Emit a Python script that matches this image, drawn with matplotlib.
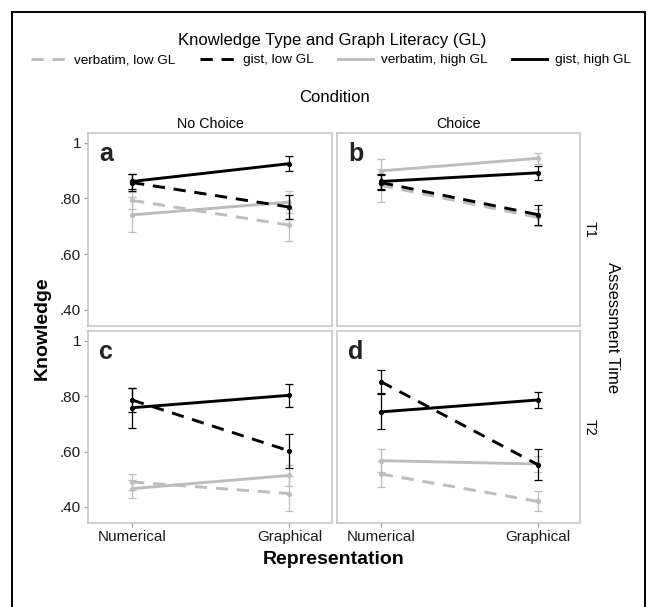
import matplotlib
matplotlib.use("Agg")
import matplotlib.pyplot as plt
from matplotlib.lines import Line2D
from matplotlib.patches import Rectangle

plt.rcParams["font.family"] = ["Liberation Sans", "DejaVu Sans"]

# --- data (Numerical, Graphical) ---
x_labels = ["Numerical", "Graphical"]
col_labels = ["No Choice", "Choice"]
row_labels = ["T1", "T2"]
panel_letters = ["a", "b", "c", "d"]
series_names = ["verbatim, low GL", "gist, low GL", "verbatim, high GL", "gist, high GL"]

# means per panel (a, b, c, d)
verbatim_low_mean = [[0.793, 0.704], [0.847, 0.732], [0.490, 0.448], [0.519, 0.420]]
gist_low_mean = [[0.857, 0.769], [0.857, 0.742], [0.786, 0.602], [0.852, 0.553]]
verbatim_high_mean = [[0.741, 0.787], [0.899, 0.944], [0.466, 0.514], [0.567, 0.555]]
gist_high_mean = [[0.861, 0.925], [0.861, 0.892], [0.758, 0.803], [0.743, 0.786]]

# error half-widths per panel
verbatim_low_err = [[0.030, 0.058], [0.060, 0.030], [0.028, 0.064], [0.046, 0.036]]
gist_low_err = [[0.030, 0.044], [0.028, 0.036], [0.045, 0.061], [0.042, 0.056]]
verbatim_high_err = [[0.063, 0.038], [0.042, 0.020], [0.032, 0.038], [0.041, 0.030]]
gist_high_err = [[0.028, 0.027], [0.028, 0.024], [0.072, 0.042], [0.063, 0.028]]

y_ticks = [0.40, 0.60, 0.80, 1.0]
y_ticklabels = [".40", ".60", ".80", "1"]

GRAY = "#bdbdbd"
BLACK = "#000000"
DASH = (0, (4.2, 3.0))
styles = [
    (GRAY, DASH, verbatim_low_mean, verbatim_low_err, 2),
    (BLACK, DASH, gist_low_mean, gist_low_err, 4),
    (GRAY, "-", verbatim_high_mean, verbatim_high_err, 3),
    (BLACK, "-", gist_high_mean, gist_high_err, 5),
]

W, H = 656, 607
fig = plt.figure(figsize=(W / 100, H / 100), dpi=100)

# outer frame
fig.patches.append(Rectangle((12 / W, -0.05), 633 / W, 1.05 - 12 / H,
                             transform=fig.transFigure, fill=False,
                             edgecolor="black", lw=1.4))

cols_px = [(88, 332), (337, 580)]
rows_px = [(133, 326), (331, 523)]
xpos = [1, 2]

for idx in range(4):
    r, c = divmod(idx, 2)
    x0, x1 = cols_px[c]
    y0, y1 = rows_px[r]
    ax = fig.add_axes([x0 / W, 1 - y1 / H, (x1 - x0) / W, (y1 - y0) / H])
    for color, ls, means, errs, z in styles:
        m, e = means[idx], errs[idx]
        ax.errorbar(xpos, m, yerr=e, fmt="none", ecolor=color, elinewidth=0.9,
                    capsize=3.2, capthick=0.9, zorder=z)
        ax.plot(xpos, m, color=color, ls=ls, lw=2.1, zorder=z + 0.1,
                solid_capstyle="butt", dash_capstyle="butt")
        ax.plot(xpos, m, "o", color=color, ms=2.7, zorder=z + 0.2)
    ax.set_xlim(0.72, 2.27)
    ax.set_ylim(0.342, 1.035)
    ax.set_xticks(xpos)
    ax.set_yticks(y_ticks)
    for s in ax.spines.values():
        s.set_color("#c4c4c4")
        s.set_linewidth(1.1)
    ax.tick_params(length=3, width=0.8, color="#9a9a9a", labelsize=11,
                   labelcolor="#1a1a1a", pad=2)
    if c == 0:
        ax.set_yticklabels(y_ticklabels)
    else:
        ax.set_yticklabels([])
        ax.tick_params(axis="y", length=0)
    if r == 1:
        ax.set_xticklabels(x_labels)
    else:
        ax.set_xticklabels([])
        ax.tick_params(axis="x", length=0)
    ax.text(0.045, 0.955, panel_letters[idx], transform=ax.transAxes,
            fontsize=18, fontweight="bold", color="#222222", va="top", ha="left")

# strip labels
fig.text(210 / W, 1 - 124 / H, col_labels[0], ha="center", va="center", fontsize=10.3)
fig.text(458.5 / W, 1 - 124 / H, col_labels[1], ha="center", va="center", fontsize=10.3)
fig.text(590 / W, 1 - 229.5 / H, row_labels[0], ha="center", va="center",
         fontsize=10.3, rotation=-90)
fig.text(590 / W, 1 - 427 / H, row_labels[1], ha="center", va="center",
         fontsize=10.3, rotation=-90)

fig.text(334 / W, 1 - 98 / H, "Condition", ha="center", va="center", fontsize=12)
fig.text(612 / W, 1 - 328 / H, "Assessment Time", ha="center", va="center",
         fontsize=12, rotation=-90)
fig.text(334 / W, 1 - 560 / H, "Representation", ha="center", va="center",
         fontsize=14, fontweight="bold")
fig.text(42 / W, 1 - 328 / H, "Knowledge", ha="center", va="center",
         fontsize=14, fontweight="bold", rotation=90)

# legend
fig.text(332 / W, 1 - 41 / H, "Knowledge Type and Graph Literacy (GL)",
         ha="center", va="center", fontsize=12)
handles = [Line2D([], [], color=color, ls=ls, lw=2.1) for color, ls, *_ in styles]
fig.legend(handles, series_names, loc="center", bbox_to_anchor=(331 / W, 1 - 60 / H),
           ncol=4, frameon=False, fontsize=9.7, handlelength=2.6,
           handletextpad=0.6, columnspacing=1.8, borderaxespad=0, borderpad=0)

fig.savefig("out.png", dpi=100)
